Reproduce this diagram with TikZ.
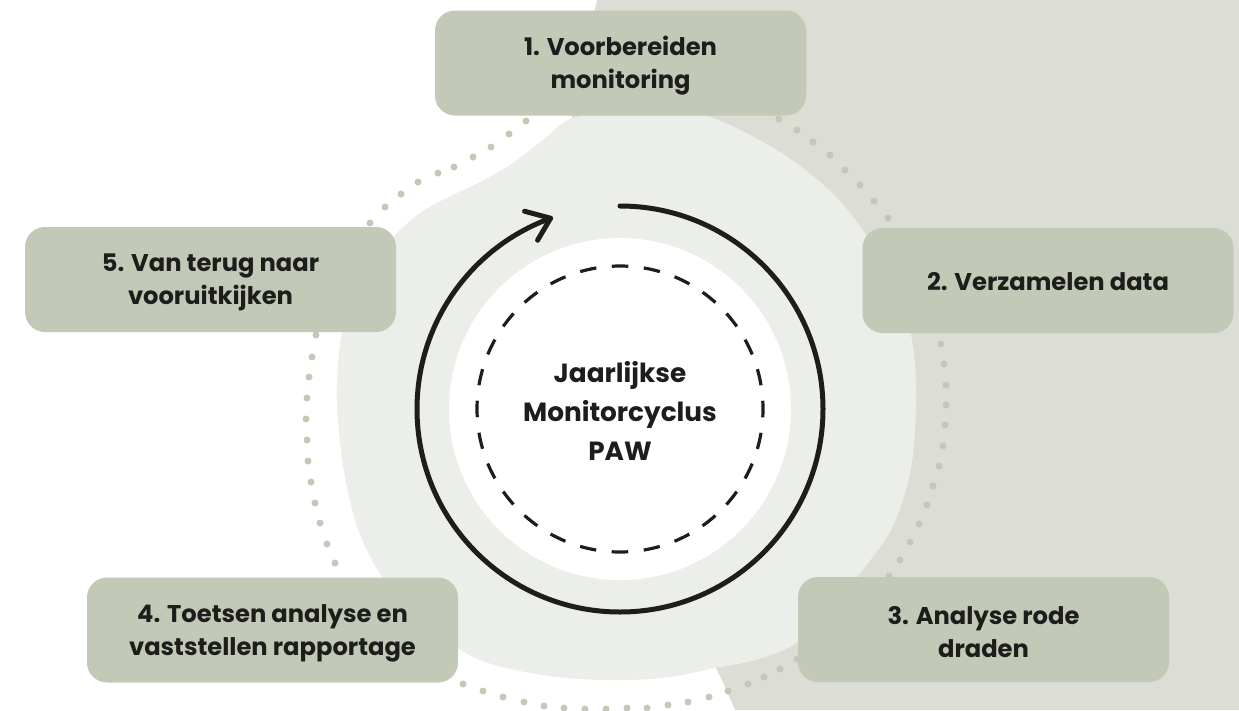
\documentclass[tikz,border=0pt]{standalone}
\usepackage{fontspec}
\setmainfont{Poppins}
\usetikzlibrary{calc}
\definecolor{boxc}{HTML}{C2C9B7}
\definecolor{grayc}{HTML}{DCDDD5}
\definecolor{blobc}{HTML}{ECEEEA}
\definecolor{ink}{HTML}{1D1D1B}
\begin{document}
\begin{tikzpicture}[x=1pt,y=-1pt,
  stepbox/.style={fill=boxc, rounded corners=20pt, minimum width=371pt, minimum height=105pt,
    inner sep=0pt},
  steptext/.style={align=center, font=\bfseries\fontsize{24.2}{33}\selectfont, text=ink, inner sep=0pt},
  dotc/.style={fill=boxc},
  ring/.style={draw=ink, line width=5pt, line cap=round, line join=round}]
\useasboundingbox (0,0) rectangle (1239,710);
\fill[white] (0,0) rectangle (1239,710);
% grey background area on the right
\fill[grayc] (597,0) -- (1239,0) -- (1239,710) -- (735,710)
  .. controls (728,693) and (722,680) .. (715,666) -- (640,400) -- (572,117)
  .. controls (580,80) and (590,35) .. (597,0) -- cycle;
% light blob
\fill[blobc] plot[smooth cycle, tension=0.55] coordinates {
 (573,118) (640,107) (707,116) (775,149) (829,190) (866,235) (895,290) (912,340)
 (916,398) (911,468) (892,528) (857,577) (825,615) (793,645) (755,660) (715,668)
 (670,677) (627,680) (580,679) (530,673) (480,660) (440,636) (400,601) (373,562)
 (355,520) (343,465) (337,400) (341,338) (357,288) (391,240) (420,213) (453,195)
 (480,182) (513,163) (543,140)};
% dotted ring segments
\foreach \p in {(370,223),(385,207),(401,194),(418,182),(438,173),(454,167),(473,157),(491,147),(509,134),(526,121),
  (779,119),(797,130),(813,142),(830,155),(845,170),(860,185),(874,201),(888,218),
  (941,344),(944,364),(946,385),(946,405),(945,425),(943,446),(939,466),(933,486),(927,505),(919,524),(910,542),(900,560),(889,576),
  (463,684),(483,691),(503,697),(524,702),(544,706),(564,708),(585,709),(606,709),(627,708),(647,708),(668,705),(688,702),(709,697),(728,691),(748,684),(764,677),(780,669),(797,659),
  (316,335),(312,357),(309,377),(307,398),(306,419),(307,440),(308,461),(311,482),(315,503),(320,523),(327,544),(335,563)}
  \fill[dotc] \p circle[radius=3.5];
% white disk and dashed circle
\node[circle, fill=white, minimum size=342pt, inner sep=0pt] (disk) at (620,409) {};
\node[circle, draw=ink, line width=3.2pt, dash pattern=on 16.5pt off 15.59pt, dash phase=8.25pt,
  minimum size=286pt, inner sep=0pt] (dashc) at (620,409) {};
% cycle arrow
\draw[ring] (620,206) arc[start angle=-90, end angle=250, radius=203] coordinate (tip);
\draw[ring] ($(tip)+(-26,-7)$) -- (tip) -- ($(tip)+(-13,22)$);
% centre text
\node[text=ink, align=center, font=\bfseries\fontsize{26.3}{39}\selectfont] (ctr) at (620,411)
  {Jaarlijkse\\Monitorcyclus\\PAW};
% step boxes
\node[stepbox] (b1) at (620.5,63) {};
\node[stepbox] (b2) at (1048,280.5) {};
\node[stepbox] (b3) at (983.5,629.5) {};
\node[stepbox] (b4) at (272.5,630) {};
\node[stepbox] (b5) at (210.5,279.5) {};
\node[steptext] (t1) at ([yshift=-3pt]b1.center) {1. Voorbereiden\\monitoring};
\node[steptext] (t2) at ([yshift=-1pt]b2.center) {2. Verzamelen data};
\node[steptext] (t3) at ([yshift=-3pt]b3.center) {3. Analyse rode\\draden};
\node[steptext] (t4) at ([yshift=-3pt]b4.center) {4. Toetsen analyse en\\vaststellen rapportage};
\node[steptext] (t5) at ([yshift=-3pt]b5.center) {5. Van terug naar\\vooruitkijken};
\end{tikzpicture}
\end{document}
